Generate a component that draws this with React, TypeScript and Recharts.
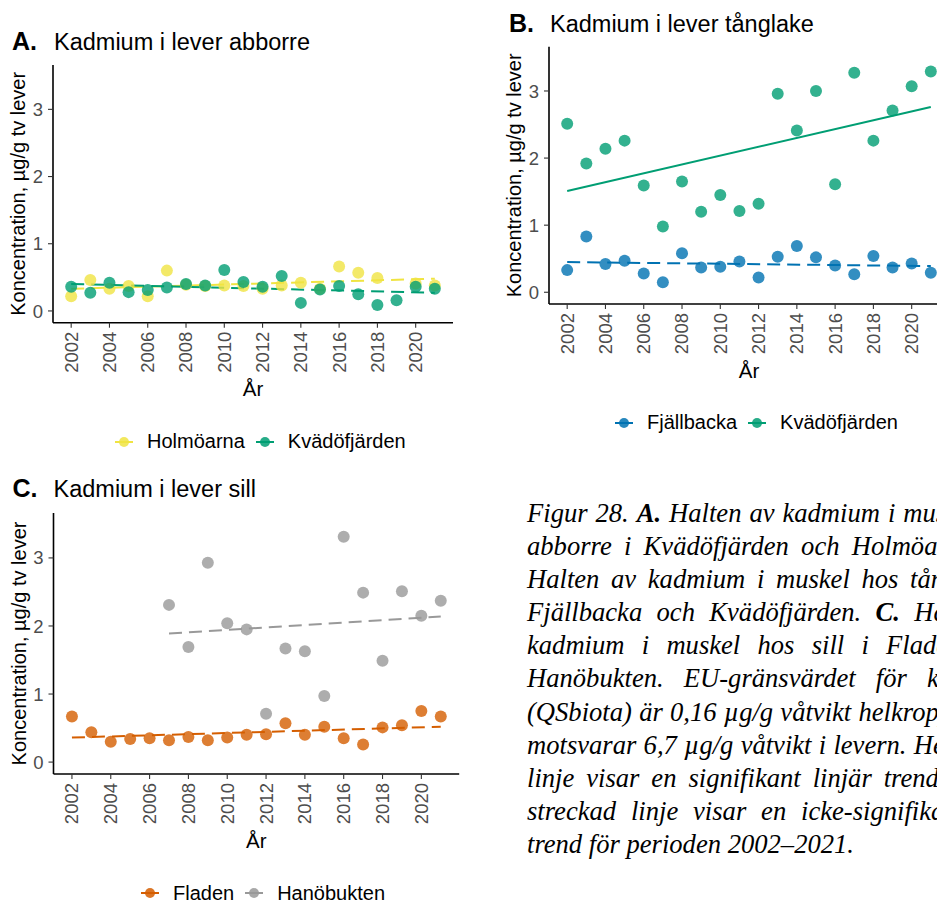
import React from 'react';
import { ComposedChart, Scatter, Line, XAxis, YAxis, Legend } from 'recharts';

const years = [
  2002, 2003, 2004, 2005, 2006, 2007, 2008, 2009, 2010, 2011,
  2012, 2013, 2014, 2015, 2016, 2017, 2018, 2019, 2020, 2021,
];
const yearTicks = [2002, 2004, 2006, 2008, 2010, 2012, 2014, 2016, 2018, 2020];
const concTicks = [0, 1, 2, 3];

// A. abborre
const holmoarna = [0.22, 0.46, 0.33, 0.37, 0.22, 0.6, 0.39, 0.37, 0.38, 0.37, 0.33, 0.38, 0.42, 0.33, 0.66, 0.57, 0.49, null, 0.41, 0.38];
const kvadofjardenAbborre = [0.36, 0.27, 0.42, 0.28, 0.31, 0.35, 0.4, 0.38, 0.61, 0.43, 0.36, 0.52, 0.12, 0.32, 0.37, 0.25, 0.09, 0.16, 0.36, 0.33];
const holmoarnaTrend = [0.33, 0.48];
const kvadofjardenAbborreTrend = [0.4, 0.27];

// B. tånglake
const fjallbacka = [0.33, 0.83, 0.42, 0.47, 0.28, 0.15, 0.58, 0.37, 0.38, 0.46, 0.22, 0.53, 0.69, 0.52, 0.4, 0.27, 0.54, 0.37, 0.43, 0.29];
const kvadofjardenTanglake = [2.51, 1.92, 2.14, 2.26, 1.59, 0.98, 1.65, 1.2, 1.45, 1.21, 1.32, 2.96, 2.41, 3.0, 1.61, 3.27, 2.26, 2.71, 3.07, 3.29];
const fjallbackaTrend = [0.45, 0.39];
const kvadofjardenTanglakeTrend = [1.51, 2.76];

// C. sill
const fladen = [0.67, 0.44, 0.3, 0.34, 0.35, 0.32, 0.37, 0.32, 0.36, 0.4, 0.41, 0.57, 0.4, 0.52, 0.35, 0.26, 0.51, 0.54, 0.75, 0.67];
const hanobukten = [null, null, null, null, null, 2.31, 1.69, 2.93, 2.04, 1.95, 0.71, 1.67, 1.63, 0.97, 3.31, 2.49, 1.49, 2.51, 2.15, 2.37];
const fladenTrend = [0.36, 0.52];
const hanobuktenTrend = [1.89, 2.14];

const fullPeriod = [2002, 2021];
const hanobuktenPeriod = [2007, 2021];

const YELLOW = '#F0E442';
const GREEN = '#009E73';
const BLUE = '#0072B2';
const ORANGE = '#D55E00';
const GREY = '#999999';

const SANS = "'Liberation Sans', Arial, sans-serif";
const SERIF = "'Liberation Serif', 'Times New Roman', serif";

type Pt = { year: number; v: number };

const toPoints = (values: (number | null)[]): Pt[] =>
  years
    .map((year, i) => ({ year, v: values[i] as number }))
    .filter((d) => d.v !== null && d.v !== undefined);

const toTrend = (span: number[], values: number[]): Pt[] =>
  span.map((year, i) => ({ year, v: values[i] }));

type Series = {
  name: string;
  color: string;
  values: (number | null)[];
  span: number[];
  trend: number[];
  dashed: boolean;
};

const YearTick = (props: any) => {
  const { x, y, payload } = props;
  return (
    <text
      x={x}
      y={y}
      transform={`rotate(-90, ${x}, ${y})`}
      textAnchor="end"
      dy="0.35em"
      fontSize={18.5}
      fontFamily={SANS}
      fill="#4D4D4D"
    >
      {payload.value}
    </text>
  );
};

const yTitle = (props: any) => {
  const vb = props.viewBox || { x: 0, y: 0, width: 53, height: 258 };
  const x = vb.x + 18;
  const y = vb.y + vb.height / 2;
  return (
    <text
      x={x}
      y={y}
      transform={`rotate(-90, ${x}, ${y})`}
      textAnchor="middle"
      dominantBaseline="central"
      fontSize={20}
      fontFamily={SANS}
      fill="#000"
    >
      Koncentration, µg/g tv lever
    </text>
  );
};

const xTitle = (props: any) => {
  const vb = props.viewBox || { x: 0, y: 0, width: 400, height: 80 };
  return (
    <text
      x={vb.x + vb.width / 2}
      y={vb.y + 66}
      textAnchor="middle"
      dominantBaseline="central"
      fontSize={20.5}
      fontFamily={SANS}
      fill="#000"
    >
      År
    </text>
  );
};

function KeyRow({ series }: { series: Series[] }) {
  return (
    <div style={{ display: 'flex', alignItems: 'center', fontFamily: SANS, fontSize: 20, color: '#000', whiteSpace: 'nowrap' }}>
      {series.map((s) => (
        <div key={s.name} style={{ display: 'flex', alignItems: 'center', marginRight: 11 }}>
          <svg width={18} height={14} style={{ marginRight: 14 }}>
            <line x1={0} y1={7} x2={18} y2={7} stroke={s.color} strokeWidth={2} />
            <circle cx={9} cy={7} r={5} fill={s.color} fillOpacity={0.85} />
          </svg>
          <span>{s.name}</span>
        </div>
      ))}
    </div>
  );
}

type PanelProps = {
  series: Series[];
  left: number;
  top: number;
  width: number;
  height: number;
  margin: { top: number; right: number; left: number; bottom: number };
  legendLeft: number;
  legendTop: number;
};

function Panel({ series, left, top, width, height, margin, legendLeft, legendTop }: PanelProps) {
  return (
    <div style={{ position: 'absolute', left, top, width, height }}>
      <ComposedChart width={width} height={height} margin={margin}>
        <XAxis
          type="number"
          dataKey="year"
          domain={[2001.05, 2021.95]}
          ticks={yearTicks}
          allowDataOverflow
          interval={0}
          height={80}
          tick={<YearTick />}
          tickSize={5}
          tickMargin={4}
          axisLine={{ stroke: '#000', strokeWidth: 1.6 }}
          tickLine={{ stroke: '#333', strokeWidth: 1.1 }}
          label={xTitle}
        />
        <YAxis
          type="number"
          dataKey="v"
          domain={[-0.175, 3.66]}
          ticks={concTicks}
          allowDataOverflow
          interval={0}
          width={53}
          tick={{ fill: '#4D4D4D', fontSize: 18.5, fontFamily: SANS }}
          tickSize={5}
          tickMargin={5}
          axisLine={{ stroke: '#000', strokeWidth: 1.6 }}
          tickLine={{ stroke: '#333', strokeWidth: 1.1 }}
          label={yTitle}
        />
        {series.map((s) => (
          <Line
            key={s.name + '-trend'}
            data={toTrend(s.span, s.trend)}
            dataKey="v"
            type="linear"
            stroke={s.color}
            strokeWidth={2}
            strokeDasharray={s.dashed ? '13 7' : undefined}
            dot={false}
            activeDot={false}
            legendType="none"
            isAnimationActive={false}
          />
        ))}
        {series.map((s) => (
          <Scatter
            key={s.name}
            name={s.name}
            data={toPoints(s.values)}
            dataKey="v"
            isAnimationActive={false}
            shape={(p: any) => <circle cx={p.cx} cy={p.cy} r={6} fill={s.color} fillOpacity={0.8} />}
          />
        ))}
        <Legend
          layout="horizontal"
          verticalAlign="middle"
          align="center"
          wrapperStyle={{ left: legendLeft, top: legendTop, width: 'auto', height: 'auto' }}
          content={() => <KeyRow series={series} />}
        />
      </ComposedChart>
    </div>
  );
}

const panelA: Series[] = [
  { name: 'Holmöarna', color: YELLOW, values: holmoarna, span: fullPeriod, trend: holmoarnaTrend, dashed: true },
  { name: 'Kvädöfjärden', color: GREEN, values: kvadofjardenAbborre, span: fullPeriod, trend: kvadofjardenAbborreTrend, dashed: true },
];
const panelB: Series[] = [
  { name: 'Fjällbacka', color: BLUE, values: fjallbacka, span: fullPeriod, trend: fjallbackaTrend, dashed: true },
  { name: 'Kvädöfjärden', color: GREEN, values: kvadofjardenTanglake, span: fullPeriod, trend: kvadofjardenTanglakeTrend, dashed: false },
];
const panelC: Series[] = [
  { name: 'Fladen', color: ORANGE, values: fladen, span: fullPeriod, trend: fladenTrend, dashed: true },
  { name: 'Hanöbukten', color: GREY, values: hanobukten, span: hanobuktenPeriod, trend: hanobuktenTrend, dashed: true },
];

// caption, one entry per printed line; [text, bold]
const captionLines: [string, boolean][][] = [
  [['Figur 28. ', false], ['A.', true], [' Halten av kadmium i muskel', false]],
  [['abborre i Kvädöfjärden och Holmöarna.', false]],
  [['Halten av kadmium i muskel hos tånglake', false]],
  [['Fjällbacka och Kvädöfjärden. ', false], ['C.', true], [' Halten', false]],
  [['kadmium i muskel hos sill i Fladen', false]],
  [['Hanöbukten. EU-gränsvärdet för kadmium', false]],
  [['(QSbiota) är 0,16 µg/g våtvikt helkropp', false]],
  [['motsvarar 6,7 µg/g våtvikt i levern. Heldragen', false]],
  [['linje visar en signifikant linjär trend', false]],
  [['streckad linje visar en icke-signifikant', false]],
  [['trend för perioden 2002–2021.', false]],
];
// justified spacing per line (px added to each space)
const captionSpacing = [1.3, 5.6, 5.0, 7.7, 10.6, 13.5, 0.6, 0.6, 5.3, 8.2, 0];

const titles = [
  { letter: 'A.', text: 'Kadmium i lever abborre', lx: 12, tx: 54, base: 50 },
  { letter: 'B.', text: 'Kadmium i lever tånglake', lx: 509, tx: 550, base: 31.5 },
  { letter: 'C.', text: 'Kadmium i lever sill', lx: 12.5, tx: 53.5, base: 496.7 },
];

export default function App() {
  return (
    <div
      style={{
        position: 'fixed',
        left: 0,
        top: 0,
        width: 937,
        height: 903,
        overflow: 'hidden',
        background: '#fff',
      }}
    >
      <svg width={937} height={903} style={{ position: 'absolute', left: 0, top: 0 }}>
        {titles.map((t) => (
          <g key={t.letter} fontFamily={SANS} fill="#000">
            <text x={t.lx} y={t.base} fontSize={25} fontWeight="bold">
              {t.letter}
            </text>
            <text x={t.tx} y={t.base} fontSize={23.5}>
              {t.text}
            </text>
          </g>
        ))}
      </svg>

      <Panel
        series={panelA}
        left={0}
        top={0}
        width={470}
        height={470}
        margin={{ top: 65, right: 17, left: 0, bottom: 67.3 }}
        legendLeft={115}
        legendTop={430}
      />
      <Panel
        series={panelB}
        left={470}
        top={0}
        width={480}
        height={450}
        margin={{ top: 46.7, right: 1, left: 26, bottom: 66 }}
        legendLeft={145}
        legendTop={411}
      />
      <Panel
        series={panelC}
        left={0}
        top={470}
        width={470}
        height={433}
        margin={{ top: 43, right: 10.8, left: 0.5, bottom: 49 }}
        legendLeft={141}
        legendTop={411.5}
      />

      <div
        style={{
          position: 'absolute',
          left: 527,
          top: 497,
          fontFamily: SERIF,
          fontStyle: 'italic',
          fontSize: 26.6,
          lineHeight: '33.1px',
          whiteSpace: 'nowrap',
          color: '#000',
        }}
      >
        {captionLines.map((line, i) => (
          <div key={i} style={{ wordSpacing: captionSpacing[i] }}>
            {line.map(([txt, bold], j) => (
              <span key={j} style={{ fontWeight: bold ? 'bold' : 'normal' }}>
                {txt}
              </span>
            ))}
          </div>
        ))}
      </div>
    </div>
  );
}
